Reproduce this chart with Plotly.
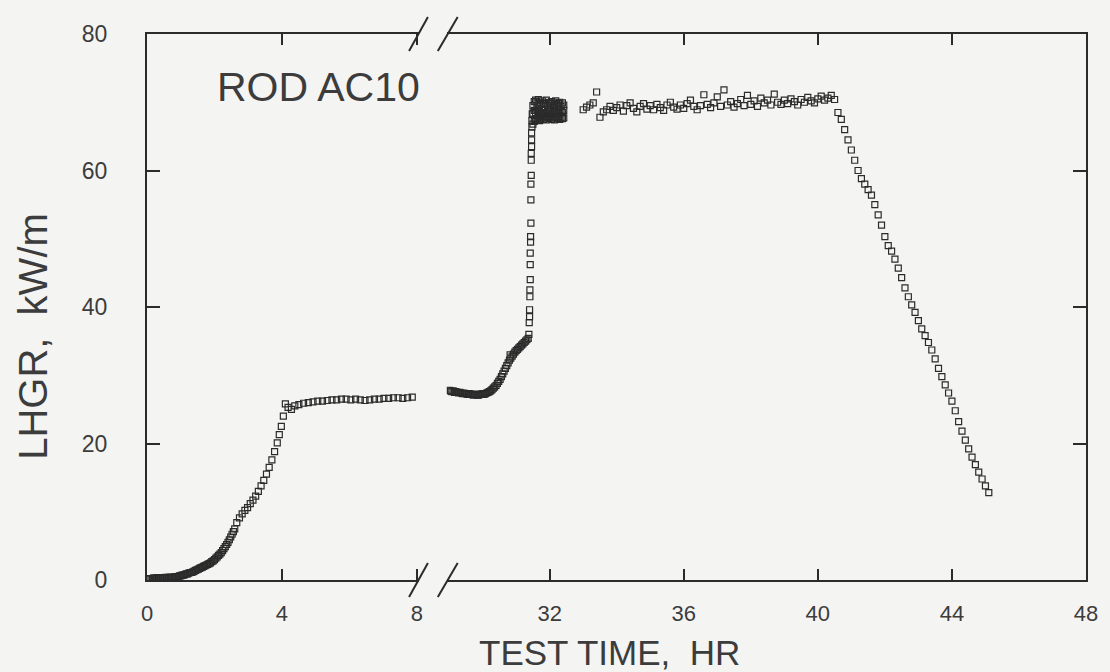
import plotly.graph_objects as go

# ---------------- data (hours, kW/m) ----------------
# early part of the test (left axis segment, 0-8 h)
t_early = [0.00, 0.04, 0.08, 0.12, 0.16, 0.20, 0.24, 0.28, 0.32, 0.36,
           0.40, 0.44, 0.48, 0.52, 0.56, 0.60, 0.64, 0.68, 0.72, 0.76,
           0.80, 0.84, 0.88, 0.92, 0.96, 1.00, 1.04, 1.08, 1.12, 1.16,
           1.20, 1.24, 1.28, 1.32, 1.36, 1.40, 1.44, 1.48, 1.52, 1.56,
           1.60, 1.64, 1.68, 1.72, 1.76, 1.80, 1.84, 1.88, 1.92, 1.96,
           2.00, 2.04, 2.08, 2.12, 2.16, 2.20, 2.24, 2.28, 2.32, 2.36,
           2.40, 2.44, 2.48, 2.52, 2.56, 2.60,
           2.66, 2.74, 2.82, 2.90, 2.98, 3.06, 3.14, 3.22, 3.30, 3.38,
           3.46, 3.54, 3.62, 3.70, 3.78, 3.86, 3.92, 3.98, 4.04, 4.10,
           4.18, 4.28, 4.38, 4.50, 4.64, 4.78, 4.92, 5.06, 5.20, 5.34,
           5.48, 5.62, 5.76, 5.90, 6.04, 6.18, 6.32, 6.46, 6.60, 6.74,
           6.88, 7.02, 7.16, 7.30, 7.44, 7.58, 7.72, 7.86]
lhgr_early = [0.2, 0.2, 0.2, 0.2, 0.2, 0.3, 0.2, 0.3, 0.3, 0.3,
              0.3, 0.3, 0.3, 0.3, 0.4, 0.3, 0.4, 0.4, 0.4, 0.4,
              0.4, 0.5, 0.5, 0.5, 0.6, 0.6, 0.7, 0.7, 0.8, 0.9,
              0.9, 1.0, 1.1, 1.1, 1.2, 1.3, 1.4, 1.5, 1.6, 1.7,
              1.8, 1.9, 2.0, 2.1, 2.2, 2.3, 2.4, 2.5, 2.7, 2.8,
              3.0, 3.2, 3.4, 3.6, 3.8, 4.0, 4.3, 4.6, 4.9, 5.2,
              5.5, 5.9, 6.3, 6.7, 7.1, 7.5,
              8.4, 9.1, 9.7, 10.2, 10.6, 11.2, 11.7, 12.3, 13.0, 13.8,
              14.6, 15.5, 16.5, 17.6, 18.8, 20.1, 21.3, 22.5, 24.0, 25.8,
              25.3, 25.0, 25.5, 25.7, 25.9, 26.0, 26.1, 26.2, 26.2, 26.3,
              26.4, 26.4, 26.5, 26.5, 26.4, 26.5, 26.4, 26.3, 26.4, 26.5,
              26.5, 26.6, 26.6, 26.7, 26.7, 26.6, 26.7, 26.8]

# second hold and ramp (right axis segment)
t_hold = [29.00, 29.04, 29.08, 29.12, 29.16, 29.20, 29.24, 29.28, 29.32, 29.36,
          29.40, 29.44, 29.48, 29.52, 29.56, 29.60, 29.64, 29.68, 29.72, 29.76,
          29.80, 29.84, 29.88, 29.92, 29.96, 30.00, 30.04, 30.08, 30.12, 30.16,
          30.20,
          30.24, 30.28, 30.32, 30.36, 30.40, 30.44, 30.48, 30.52, 30.56, 30.60,
          30.64, 30.68, 30.72, 30.76, 30.80, 30.84, 30.88, 30.92, 30.96, 31.00,
          31.04, 31.08, 31.12, 31.16, 31.20, 31.24, 31.28, 31.32, 31.36]
lhgr_hold = [27.8, 27.7, 27.6, 27.7, 27.5, 27.6, 27.5, 27.4, 27.5, 27.4,
             27.3, 27.4, 27.3, 27.3, 27.2, 27.3, 27.2, 27.2, 27.1, 27.2,
             27.2, 27.1, 27.1, 27.2, 27.2, 27.3, 27.2, 27.3, 27.4, 27.5,
             27.6,
             27.7, 27.9, 28.1, 28.3, 28.5, 28.8, 29.1, 29.4, 29.8, 30.2,
             30.6, 31.0, 31.4, 31.8, 32.2, 32.5, 32.8, 33.1, 33.4, 33.6,
             33.8, 34.0, 34.2, 34.4, 34.6, 34.8, 35.0, 35.2, 35.4]

# fast power rise
t_rise = [31.38, 31.39, 31.40, 31.40, 31.41, 31.41, 31.42, 31.42, 31.42, 31.43,
          31.43, 31.44, 31.44, 31.44, 31.45, 31.45, 31.45, 31.46, 31.46, 31.46,
          31.47, 31.47, 31.48, 30.82]
lhgr_rise = [36.0, 37.7, 38.6, 39.6, 41.5, 42.5, 44.0, 46.2, 47.9, 49.5,
             50.3, 52.3, 55.7, 58.0, 59.3, 61.5, 62.5, 63.5, 64.5, 65.5,
             66.4, 67.3, 68.3, 33.0]

# dense cluster right after the rise
t_cluster = [31.50, 31.54, 31.58, 31.62, 31.66, 31.70, 31.74, 31.78, 31.82, 31.86,
             31.90, 31.94, 31.98, 32.02, 32.06, 32.10, 32.14, 32.18, 32.22, 32.26,
             32.30, 32.34, 32.38, 32.42]
lhgr_cluster_upper = [69.5, 70.1, 70.3, 69.9, 70.4, 70.0, 69.7, 70.2, 69.8, 69.9,
                      70.3, 69.6, 70.0, 69.8, 70.1, 69.5, 69.9, 70.2, 69.6, 69.8,
                      70.0, 69.4, 69.9, 69.6]
lhgr_cluster_mid = [68.4, 68.8, 68.5, 68.9, 68.6, 68.7, 68.3, 68.8, 68.5, 68.9,
                    68.4, 68.7, 68.6, 68.9, 68.3, 68.6, 68.8, 68.5, 68.7, 68.4,
                    68.9, 68.6, 68.5, 68.8]
lhgr_cluster_lower = [66.8, 67.2, 67.5, 67.4, 67.8, 67.3, 67.6, 67.9, 67.5, 67.7,
                      67.4, 67.8, 67.6, 67.9, 67.5, 67.7, 67.4, 67.8, 67.6, 67.9,
                      67.5, 67.8, 67.6, 67.7]

# high-power plateau
t_plateau = [33.0, 33.1, 33.2, 33.3, 33.4, 33.5, 33.6, 33.7, 33.8, 33.9,
             34.0, 34.1, 34.2, 34.3, 34.4, 34.5, 34.6, 34.7, 34.8, 34.9,
             35.0, 35.1, 35.2, 35.3, 35.4, 35.5, 35.6, 35.7, 35.8, 35.9,
             36.0, 36.1, 36.2, 36.3, 36.4, 36.5, 36.6, 36.7, 36.8, 36.9,
             37.0, 37.1, 37.2, 37.3, 37.4, 37.5, 37.6, 37.7, 37.8, 37.9,
             38.0, 38.1, 38.2, 38.3, 38.4, 38.5, 38.6, 38.7, 38.8, 38.9,
             39.0, 39.1, 39.2, 39.3, 39.4, 39.5, 39.6, 39.7, 39.8, 39.9,
             40.0, 40.1, 40.2, 40.3, 40.4, 40.5]
lhgr_plateau = [68.9, 69.3, 69.6, 69.9, 71.5, 67.8, 68.6, 68.9, 69.4, 68.8,
                69.2, 69.6, 68.7, 69.5, 69.9, 69.1, 68.6, 69.4, 69.8, 69.0,
                69.5, 68.9, 69.7, 69.2, 68.8, 69.6, 70.0, 69.3, 69.0, 69.6,
                69.1, 69.8, 70.3, 69.4, 68.9, 69.5, 71.1, 69.7, 69.2, 69.9,
                70.8, 69.4, 71.8, 69.6, 70.1, 69.3, 69.8, 70.4, 69.5, 71.0,
                69.7, 70.2, 69.4, 70.6, 69.9, 70.3, 69.6, 71.2, 70.0, 69.7,
                70.3, 69.8, 70.5, 70.1, 69.6, 70.4, 70.0, 70.7, 70.2, 69.9,
                70.5, 70.9, 70.3, 70.6, 71.0, 70.4]

# power decrease
t_down = [40.6, 40.7, 40.8, 40.9, 41.0, 41.1, 41.2, 41.3, 41.4, 41.5,
          41.6, 41.7, 41.8, 41.9, 42.0, 42.1, 42.2, 42.3, 42.4, 42.5,
          42.6, 42.7, 42.8, 42.9, 43.0, 43.1, 43.2, 43.3, 43.4, 43.5,
          43.6, 43.7, 43.8, 43.9, 44.0, 44.1, 44.2, 44.3, 44.4, 44.5,
          44.6, 44.7, 44.8, 44.9, 45.0, 45.1]
lhgr_down = [68.5, 67.5, 66.0, 64.5, 63.0, 61.5, 60.0, 58.8, 58.0, 57.2,
             56.4, 55.0, 53.5, 52.0, 50.3, 49.0, 48.2, 47.0, 45.7, 44.3,
             42.8, 41.5, 40.3, 39.2, 38.0, 36.8, 35.8, 34.8, 33.7, 32.4,
             31.0, 29.8, 28.6, 27.4, 26.2, 24.8, 23.2, 21.8, 20.5, 19.2,
             18.0, 16.9, 15.8, 14.8, 13.8, 12.8]

x_ticks_left = [0, 4, 8]
x_ticks_right = [32, 36, 40, 44, 48]
y_ticks = [0, 20, 40, 60, 80]

# ---------------- figure ----------------
INK = "#2b2b2b"
TXT = "#3c3c3c"
BG = "#f4f4f3"
FONT = "Liberation Sans"

t_late = (t_hold + t_rise + t_cluster + t_cluster + t_cluster
          + t_plateau + t_down)
lhgr_late = (lhgr_hold + lhgr_rise + lhgr_cluster_upper + lhgr_cluster_mid
             + lhgr_cluster_lower + lhgr_plateau + lhgr_down)

marker = dict(symbol="square-open", size=6, color=INK, line=dict(width=1.2, color=INK))

fig = go.Figure()
fig.add_trace(go.Scatter(x=t_early, y=lhgr_early, mode="markers", marker=marker,
                         xaxis="x", yaxis="y", showlegend=False))
fig.add_trace(go.Scatter(x=t_late, y=lhgr_late, mode="markers", marker=marker,
                         xaxis="x2", yaxis="y2", showlegend=False))

W, H = 1110, 672
L, R, T, B = 147, 1093, 34, 580          # plot box in pixels
pw, ph = R - L, B - T

def px(x):
    return (x - L) / pw

def py(y):
    return (B - y) / ph

left_end = 420.7
right_start = 449.0

common_x = dict(showline=True, linecolor=INK, linewidth=2, mirror="ticks",
                ticks="inside", ticklen=11, tickwidth=2, tickcolor=INK,
                showgrid=False, zeroline=False,
                tickfont=dict(family=FONT, size=22, color=TXT),
                ticklabelstandoff=13)
common_y = dict(showline=True, linecolor=INK, linewidth=2,
                ticks="inside", ticklen=13, tickwidth=2, tickcolor=INK,
                showgrid=False, zeroline=False, range=[0, 80], tickvals=y_ticks,
                domain=[0, 1])

fig.update_layout(
    width=W, height=H,
    margin=dict(l=L, r=W - R, t=T, b=H - B),
    paper_bgcolor=BG, plot_bgcolor=BG,
    xaxis=dict(common_x, domain=[0, px(left_end)], range=[0, 8.05],
               tickvals=x_ticks_left, anchor="y"),
    xaxis2=dict(common_x, domain=[px(right_start), 1], range=[28.93, 48],
                tickvals=x_ticks_right, anchor="y2"),
    yaxis=dict(common_y, anchor="x", side="left", mirror=False,
               tickfont=dict(family=FONT, size=23, color=TXT),
               ticklabelstandoff=33),
    yaxis2=dict(common_y, anchor="x2", side="right", mirror=False,
                showticklabels=False, matches="y"),
)

# axis-break marks (//) at bottom and top
breaks = []
for yc in (B, T):
    for (x0, x1) in ((411, 430), (440, 460)):
        breaks.append(dict(type="line", xref="paper", yref="paper",
                           x0=px(x0), x1=px(x1), y0=py(yc + 17), y1=py(yc - 17),
                           line=dict(color=INK, width=2)))
fig.update_layout(shapes=breaks)

fig.update_layout(annotations=[
    dict(text="ROD AC10", xref="paper", yref="paper", x=px(216), y=py(87),
         xanchor="left", yanchor="middle", showarrow=False,
         font=dict(family=FONT, size=41, color=TXT)),
    dict(text="TEST TIME,  HR", xref="paper", yref="paper", x=px(613), y=py(652),
         xanchor="center", yanchor="middle", showarrow=False,
         font=dict(family=FONT, size=35, color=TXT)),
    dict(text="LHGR,  kW/m", xref="paper", yref="paper", x=px(32), y=py(336),
         xanchor="center", yanchor="middle", textangle=-90, showarrow=False,
         font=dict(family=FONT, size=40, color=TXT)),
])

fig.write_html("out.html")
